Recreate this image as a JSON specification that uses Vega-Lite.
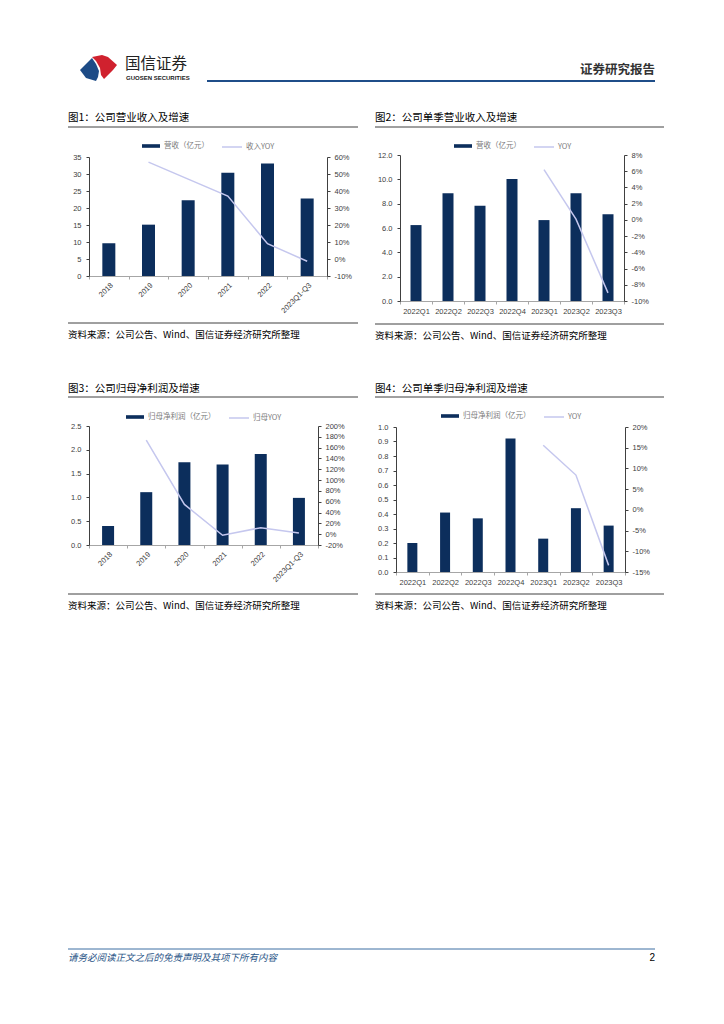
{
  "$schema": "https://vega.github.io/schema/vega-lite/v6.json",
  "background": "white",
  "padding": {"left": 67, "top": 50, "right": 0, "bottom": 0},
  "datasets": {
    "rev_y": [
      {"p": "2018", "v": 9.65},
      {"p": "2019", "v": 15.1, "yoy": 0.57},
      {"p": "2020", "v": 22.3, "yoy": 0.47},
      {"p": "2021", "v": 30.4, "yoy": 0.37},
      {"p": "2022", "v": 33.1, "yoy": 0.09},
      {"p": "2023Q1-Q3", "v": 22.8, "yoy": -0.013}
    ],
    "rev_q": [
      {"p": "2022Q1", "v": 6.24},
      {"p": "2022Q2", "v": 8.85},
      {"p": "2022Q3", "v": 7.83},
      {"p": "2022Q4", "v": 10.03},
      {"p": "2023Q1", "v": 6.65, "yoy": 0.062},
      {"p": "2023Q2", "v": 8.85, "yoy": 0.001},
      {"p": "2023Q3", "v": 7.14, "yoy": -0.09}
    ],
    "np_y": [
      {"p": "2018", "v": 0.40},
      {"p": "2019", "v": 1.11, "yoy": 1.74},
      {"p": "2020", "v": 1.74, "yoy": 0.55},
      {"p": "2021", "v": 1.69, "yoy": -0.02},
      {"p": "2022", "v": 1.91, "yoy": 0.12},
      {"p": "2023Q1-Q3", "v": 0.99, "yoy": 0.02}
    ],
    "np_q": [
      {"p": "2022Q1", "v": 0.20},
      {"p": "2022Q2", "v": 0.41},
      {"p": "2022Q3", "v": 0.37},
      {"p": "2022Q4", "v": 0.92},
      {"p": "2023Q1", "v": 0.23, "yoy": 0.156},
      {"p": "2023Q2", "v": 0.44, "yoy": 0.084},
      {"p": "2023Q3", "v": 0.32, "yoy": -0.134}
    ]
  },
  "spacing": 336,
  "resolve": {"scale": {"fill": "independent", "stroke": "independent"}},
  "vconcat": [
    {
      "spacing": 27,
      "resolve": {"scale": {"fill": "independent", "stroke": "independent"}},
      "vconcat": [
        {
          "width": 587, "height": 32,
          "data": {"values": [{}]},
          "encoding": {
            "x": {"datum": 0, "type": "quantitative", "scale": {"domain": [0, 587], "range": [-21, 566]}, "axis": null},
            "y": {"datum": 0, "type": "quantitative", "scale": {"domain": [0, 32], "range": [0, 32]}, "axis": null}
          },
          "layer": [
            {"mark": {"type": "point", "filled": true, "opacity": 1, "size": 1600, "color": "#1d4b86", "shape": "M-0.95,0.1L-0.35,-0.5L-0.15,-0.2L0,0.15L-0.05,0.45L-0.15,0.65L-0.65,0.5Z"},
             "encoding": {"x": {"datum": 31, "type": "quantitative"}, "y": {"datum": 18, "type": "quantitative"}}},
            {"mark": {"type": "point", "filled": true, "opacity": 1, "size": 1600, "color": "#d0212e", "shape": "M-0.35,-0.55L0.15,-0.65L0.45,-0.55L0.9,-0.15L0.7,0.1L0.25,0.55L0.1,0.35L0.05,0L-0.15,-0.35Z"},
             "encoding": {"x": {"datum": 31, "type": "quantitative"}, "y": {"datum": 18, "type": "quantitative"}}},
            {"mark": {"type": "text", "text": "国信证券", "align": "left", "baseline": "middle", "fontSize": 15.5, "font": "Noto Sans CJK SC", "color": "#222222"},
             "encoding": {"x": {"datum": 57, "type": "quantitative"}, "y": {"datum": 14, "type": "quantitative"}}},
            {"mark": {"type": "text", "text": "GUOSEN SECURITIES", "align": "left", "baseline": "middle", "fontSize": 6, "fontWeight": "bold", "font": "Liberation Sans", "color": "#222222"},
             "encoding": {"x": {"datum": 58, "type": "quantitative"}, "y": {"datum": 27.5, "type": "quantitative"}}},
            {"mark": {"type": "text", "text": "证券研究报告", "align": "right", "baseline": "middle", "fontSize": 12.5, "fontWeight": "bold", "font": "Noto Sans CJK SC", "color": "#333333"},
             "encoding": {"x": {"datum": 587, "type": "quantitative"}, "y": {"datum": 19.5, "type": "quantitative"}}},
            {"mark": {"type": "rule", "color": "#1f4e89", "strokeWidth": 2},
             "encoding": {"x": {"datum": 139, "type": "quantitative"}, "x2": {"datum": 587}, "y": {"datum": 31, "type": "quantitative"}}}
          ]
        },
        {
          "spacing": 38,
          "resolve": {"scale": {"fill": "independent", "stroke": "independent"}},
          "vconcat": [
            {
              "spacing": 15,
              "resolve": {"scale": {"fill": "independent", "stroke": "independent"}},
              "hconcat": [
                {
                  "spacing": 7,
                  "resolve": {"scale": {"fill": "independent", "stroke": "independent"}},
                  "vconcat": [
                    {
                      "width": 269, "height": 19.5,
                      "data": {"values": [{}]},
                      "encoding": {
                        "x": {"datum": 0, "type": "quantitative", "scale": {"domain": [0, 1], "range": [-21, 269]}, "axis": null},
                        "y": {"datum": 0.5, "type": "quantitative", "scale": {"domain": [0, 1], "range": [0, 18]}, "axis": null}
                      },
                      "layer": [
                        {"mark": {"type": "text", "text": "图1：公司营业收入及增速", "align": "left", "baseline": "middle", "fontSize": 10.5, "color": "#000000"}},
                        {"mark": {"type": "rule", "color": "#404040", "strokeWidth": 1},
                         "encoding": {"x2": {"datum": 1}, "y": {"datum": 1, "type": "quantitative"}}}
                      ]
                    },
                    {
                      "width": 238, "height": 119,
                      "data": {"name": "rev_y"},
                      "encoding": {"x": {"field": "p", "type": "ordinal", "sort": null, "scale": {"paddingInner": 0, "paddingOuter": 0}, "axis": {"labelAngle": -45, "tickBand": "extent", "domainColor": "#a6a6a6", "tickColor": "#a6a6a6", "labelPadding": 2}}},
                      "layer": [
                        {"mark": {"type": "bar", "width": 13},
                         "encoding": {
                           "y": {"field": "v", "type": "quantitative", "scale": {"domain": [0, 35], "nice": false}, "axis": {"orient": "left", "values": [0, 5, 10, 15, 20, 25, 30, 35], "labelPadding": 5}},
                           "fill": {"datum": "营收（亿元）", "type": "nominal", "scale": {"range": ["#0c2e5c"]}, "legend": {"title": null, "symbolType": "M-1,-0.2H1V0.2H-1Z", "symbolSize": 324, "offset": 6}}
                         }},
                        {"mark": {"type": "line", "strokeWidth": 1.5},
                         "encoding": {
                           "y": {"field": "yoy", "type": "quantitative", "scale": {"domain": [-0.1, 0.6], "nice": false, "zero": false}, "axis": {"orient": "right", "format": ".0%", "labelExpr": "replace(datum.label, '\u2212', '-')", "values": [-0.1, 0, 0.1, 0.2, 0.3, 0.4, 0.5, 0.6], "labelPadding": 4}},
                           "stroke": {"datum": "收入YOY", "type": "nominal", "scale": {"range": ["#c5c7ee"]}, "legend": {"title": null, "symbolType": "stroke", "symbolSize": 400, "symbolStrokeWidth": 1.5, "offset": 6}}
                         }}
                      ],
                      "resolve": {"scale": {"y": "independent"}}
                    },
                    {
                      "width": 269, "height": 18,
                      "data": {"values": [{}]},
                      "encoding": {
                        "x": {"datum": 0, "type": "quantitative", "scale": {"domain": [0, 1], "range": [-21, 269]}, "axis": null},
                        "y": {"datum": 0, "type": "quantitative", "scale": {"domain": [0, 1], "range": [0, 12]}, "axis": null}
                      },
                      "layer": [
                        {"mark": {"type": "rule", "color": "#404040", "strokeWidth": 1}, "encoding": {"x2": {"datum": 1}}},
                        {"mark": {"type": "text", "text": "资料来源：公司公告、Wind、国信证券经济研究所整理", "align": "left", "baseline": "middle", "fontSize": 9.5, "color": "#000000"},
                         "encoding": {"y": {"datum": 1, "type": "quantitative"}}}
                      ]
                    }
                  ]
                },
                {
                  "spacing": 8,
                  "resolve": {"scale": {"fill": "independent", "stroke": "independent"}},
                  "vconcat": [
                    {
                      "width": 264, "height": 18.5,
                      "data": {"values": [{}]},
                      "encoding": {
                        "x": {"datum": 0, "type": "quantitative", "scale": {"domain": [0, 1], "range": [-25, 264]}, "axis": null},
                        "y": {"datum": 0.5, "type": "quantitative", "scale": {"domain": [0, 1], "range": [0, 18]}, "axis": null}
                      },
                      "layer": [
                        {"mark": {"type": "text", "text": "图2：公司单季营业收入及增速", "align": "left", "baseline": "middle", "fontSize": 10.5, "color": "#000000"}},
                        {"mark": {"type": "rule", "color": "#404040", "strokeWidth": 1},
                         "encoding": {"x2": {"datum": 1}, "y": {"datum": 1, "type": "quantitative"}}}
                      ]
                    },
                    {
                      "width": 224, "height": 146,
                      "data": {"name": "rev_q"},
                      "encoding": {"x": {"field": "p", "type": "ordinal", "sort": null, "scale": {"paddingInner": 0, "paddingOuter": 0}, "axis": {"labelAngle": 0, "tickBand": "extent", "domainColor": "#a6a6a6", "tickColor": "#a6a6a6", "labelPadding": 3}}},
                      "layer": [
                        {"mark": {"type": "bar", "width": 11},
                         "encoding": {
                           "y": {"field": "v", "type": "quantitative", "scale": {"domain": [0, 12], "nice": false}, "axis": {"orient": "left", "format": ".1f", "values": [0, 2, 4, 6, 8, 10, 12], "labelPadding": 5}},
                           "fill": {"datum": "营收（亿元）", "type": "nominal", "scale": {"range": ["#0c2e5c"]}, "legend": {"title": null, "symbolType": "M-1,-0.2H1V0.2H-1Z", "symbolSize": 324, "offset": 4}}
                         }},
                        {"mark": {"type": "line", "strokeWidth": 1.5},
                         "encoding": {
                           "y": {"field": "yoy", "type": "quantitative", "scale": {"domain": [-0.1, 0.08], "nice": false, "zero": false}, "axis": {"orient": "right", "format": ".0%", "labelExpr": "replace(datum.label, '\u2212', '-')", "values": [-0.1, -0.08, -0.06, -0.04, -0.02, 0, 0.02, 0.04, 0.06, 0.08], "labelPadding": 4}},
                           "stroke": {"datum": "YOY", "type": "nominal", "scale": {"range": ["#c5c7ee"]}, "legend": {"title": null, "symbolType": "stroke", "symbolSize": 400, "symbolStrokeWidth": 1.5, "offset": 4}}
                         }}
                      ],
                      "resolve": {"scale": {"y": "independent"}}
                    },
                    {
                      "width": 264, "height": 18,
                      "data": {"values": [{}]},
                      "encoding": {
                        "x": {"datum": 0, "type": "quantitative", "scale": {"domain": [0, 1], "range": [-25, 264]}, "axis": null},
                        "y": {"datum": 0, "type": "quantitative", "scale": {"domain": [0, 1], "range": [0, 12]}, "axis": null}
                      },
                      "layer": [
                        {"mark": {"type": "rule", "color": "#404040", "strokeWidth": 1}, "encoding": {"x2": {"datum": 1}}},
                        {"mark": {"type": "text", "text": "资料来源：公司公告、Wind、国信证券经济研究所整理", "align": "left", "baseline": "middle", "fontSize": 9.5, "color": "#000000"},
                         "encoding": {"y": {"datum": 1, "type": "quantitative"}}}
                      ]
                    }
                  ]
                }
              ]
            },
            {
              "spacing": 15,
              "resolve": {"scale": {"fill": "independent", "stroke": "independent"}},
              "hconcat": [
                {
                  "spacing": 9,
                  "resolve": {"scale": {"fill": "independent", "stroke": "independent"}},
                  "vconcat": [
                    {
                      "width": 269, "height": 18,
                      "data": {"values": [{}]},
                      "encoding": {
                        "x": {"datum": 0, "type": "quantitative", "scale": {"domain": [0, 1], "range": [-21, 269]}, "axis": null},
                        "y": {"datum": 0.5, "type": "quantitative", "scale": {"domain": [0, 1], "range": [0, 17]}, "axis": null}
                      },
                      "layer": [
                        {"mark": {"type": "text", "text": "图3：公司归母净利润及增速", "align": "left", "baseline": "middle", "fontSize": 10.5, "color": "#000000"}},
                        {"mark": {"type": "rule", "color": "#404040", "strokeWidth": 1},
                         "encoding": {"x2": {"datum": 1}, "y": {"datum": 1, "type": "quantitative"}}}
                      ]
                    },
                    {
                      "width": 229, "height": 119,
                      "data": {"name": "np_y"},
                      "encoding": {"x": {"field": "p", "type": "ordinal", "sort": null, "scale": {"paddingInner": 0, "paddingOuter": 0}, "axis": {"labelAngle": -45, "tickBand": "extent", "domainColor": "#a6a6a6", "tickColor": "#a6a6a6", "labelPadding": 2}}},
                      "layer": [
                        {"mark": {"type": "bar", "width": 12},
                         "encoding": {
                           "y": {"field": "v", "type": "quantitative", "scale": {"domain": [0, 2.5], "nice": false}, "axis": {"orient": "left", "format": ".1f", "values": [0, 0.5, 1, 1.5, 2, 2.5], "labelPadding": 5}},
                           "fill": {"datum": "归母净利润（亿元）", "type": "nominal", "scale": {"range": ["#0c2e5c"]}, "legend": {"title": null, "symbolType": "M-1,-0.2H1V0.2H-1Z", "symbolSize": 324, "offset": 4}}
                         }},
                        {"mark": {"type": "line", "strokeWidth": 1.5},
                         "encoding": {
                           "y": {"field": "yoy", "type": "quantitative", "scale": {"domain": [-0.2, 2.0], "nice": false, "zero": false}, "axis": {"orient": "right", "format": ".0%", "labelExpr": "replace(datum.label, '\u2212', '-')", "values": [-0.2, 0, 0.2, 0.4, 0.6, 0.8, 1.0, 1.2, 1.4, 1.6, 1.8, 2.0], "labelPadding": 4}},
                           "stroke": {"datum": "归母YOY", "type": "nominal", "scale": {"range": ["#c5c7ee"]}, "legend": {"title": null, "symbolType": "stroke", "symbolSize": 400, "symbolStrokeWidth": 1.5, "offset": 4}}
                         }}
                      ],
                      "resolve": {"scale": {"y": "independent"}}
                    },
                    {
                      "width": 269, "height": 18,
                      "data": {"values": [{}]},
                      "encoding": {
                        "x": {"datum": 0, "type": "quantitative", "scale": {"domain": [0, 1], "range": [-21, 269]}, "axis": null},
                        "y": {"datum": 0, "type": "quantitative", "scale": {"domain": [0, 1], "range": [0, 12]}, "axis": null}
                      },
                      "layer": [
                        {"mark": {"type": "rule", "color": "#404040", "strokeWidth": 1}, "encoding": {"x2": {"datum": 1}}},
                        {"mark": {"type": "text", "text": "资料来源：公司公告、Wind、国信证券经济研究所整理", "align": "left", "baseline": "middle", "fontSize": 9.5, "color": "#000000"},
                         "encoding": {"y": {"datum": 1, "type": "quantitative"}}}
                      ]
                    }
                  ]
                },
                {
                  "spacing": 7,
                  "resolve": {"scale": {"fill": "independent", "stroke": "independent"}},
                  "vconcat": [
                    {
                      "width": 268, "height": 18.5,
                      "data": {"values": [{}]},
                      "encoding": {
                        "x": {"datum": 0, "type": "quantitative", "scale": {"domain": [0, 1], "range": [-21, 268]}, "axis": null},
                        "y": {"datum": 0.5, "type": "quantitative", "scale": {"domain": [0, 1], "range": [0, 17]}, "axis": null}
                      },
                      "layer": [
                        {"mark": {"type": "text", "text": "图4：公司单季归母净利润及增速", "align": "left", "baseline": "middle", "fontSize": 10.5, "color": "#000000"}},
                        {"mark": {"type": "rule", "color": "#404040", "strokeWidth": 1},
                         "encoding": {"x2": {"datum": 1}, "y": {"datum": 1, "type": "quantitative"}}}
                      ]
                    },
                    {
                      "width": 229, "height": 145,
                      "data": {"name": "np_q"},
                      "encoding": {"x": {"field": "p", "type": "ordinal", "sort": null, "scale": {"paddingInner": 0, "paddingOuter": 0}, "axis": {"labelAngle": 0, "tickBand": "extent", "domainColor": "#a6a6a6", "tickColor": "#a6a6a6", "labelPadding": 3}}},
                      "layer": [
                        {"mark": {"type": "bar", "width": 10},
                         "encoding": {
                           "y": {"field": "v", "type": "quantitative", "scale": {"domain": [0, 1], "nice": false}, "axis": {"orient": "left", "format": ".1f", "values": [0, 0.1, 0.2, 0.3, 0.4, 0.5, 0.6, 0.7, 0.8, 0.9, 1.0], "labelPadding": 5}},
                           "fill": {"datum": "归母净利润（亿元）", "type": "nominal", "scale": {"range": ["#0c2e5c"]}, "legend": {"title": null, "symbolType": "M-1,-0.2H1V0.2H-1Z", "symbolSize": 324, "offset": 6}}
                         }},
                        {"mark": {"type": "line", "strokeWidth": 1.5},
                         "encoding": {
                           "y": {"field": "yoy", "type": "quantitative", "scale": {"domain": [-0.15, 0.2], "nice": false, "zero": false}, "axis": {"orient": "right", "format": ".0%", "labelExpr": "replace(datum.label, '\u2212', '-')", "values": [-0.15, -0.1, -0.05, 0, 0.05, 0.1, 0.15, 0.2], "labelPadding": 4}},
                           "stroke": {"datum": "YOY", "type": "nominal", "scale": {"range": ["#c5c7ee"]}, "legend": {"title": null, "symbolType": "stroke", "symbolSize": 400, "symbolStrokeWidth": 1.5, "offset": 6}}
                         }}
                      ],
                      "resolve": {"scale": {"y": "independent"}}
                    },
                    {
                      "width": 268, "height": 18,
                      "data": {"values": [{}]},
                      "encoding": {
                        "x": {"datum": 0, "type": "quantitative", "scale": {"domain": [0, 1], "range": [-21, 268]}, "axis": null},
                        "y": {"datum": 0, "type": "quantitative", "scale": {"domain": [0, 1], "range": [0, 12]}, "axis": null}
                      },
                      "layer": [
                        {"mark": {"type": "rule", "color": "#404040", "strokeWidth": 1}, "encoding": {"x2": {"datum": 1}}},
                        {"mark": {"type": "text", "text": "资料来源：公司公告、Wind、国信证券经济研究所整理", "align": "left", "baseline": "middle", "fontSize": 9.5, "color": "#000000"},
                         "encoding": {"y": {"datum": 1, "type": "quantitative"}}}
                      ]
                    }
                  ]
                }
              ]
            }
          ]
        }
      ]
    },
    {
      "width": 587, "height": 20,
      "data": {"values": [{}]},
      "encoding": {
        "x": {"datum": 0, "type": "quantitative", "scale": {"domain": [0, 1], "range": [-21, 566]}, "axis": null},
        "y": {"datum": 0, "type": "quantitative", "scale": {"domain": [0, 1], "range": [0, 9]}, "axis": null}
      },
      "layer": [
        {"mark": {"type": "rule", "color": "#3d6ea3", "strokeWidth": 1}, "encoding": {"x2": {"datum": 1}}},
        {"mark": {"type": "text", "text": "请务必阅读正文之后的免责声明及其项下所有内容", "align": "left", "baseline": "middle", "fontSize": 9.5, "fontStyle": "italic", "color": "#2a5587"},
         "encoding": {"y": {"datum": 1, "type": "quantitative"}}},
        {"mark": {"type": "text", "text": "2", "align": "right", "baseline": "middle", "fontSize": 10, "font": "Liberation Sans", "color": "#000000"},
         "encoding": {"x": {"datum": 1, "type": "quantitative"}, "y": {"datum": 1, "type": "quantitative"}}}
      ]
    }
  ],
  "config": {
    "view": {"stroke": null},
    "font": "Noto Sans CJK SC",
    "axis": {"labelFont": "Liberation Sans", "labelFontSize": 7.5, "labelColor": "#404040", "domainColor": "#404040", "tickColor": "#404040", "tickSize": 3, "grid": false, "title": null},
    "legend": {"orient": "top", "direction": "horizontal", "labelFont": "Noto Sans CJK SC", "labelFontSize": 7.5, "labelColor": "#7a7a7a", "padding": 0, "labelOffset": 3, "layout": {"top": {"anchor": "middle", "direction": "horizontal", "margin": 12}}}
  }
}
